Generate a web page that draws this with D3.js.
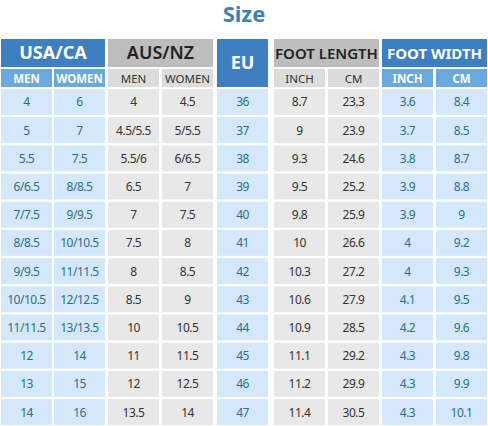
<!DOCTYPE html>
<html><head><meta charset="utf-8">
<script src="https://cdn.jsdelivr.net/npm/d3@7"></script>
<style>body{margin:0;background:#fff;font-family:"Noto Sans","Open Sans",sans-serif;}</style>
</head><body><div id="chart"></div>
<script>
var usMen = ["4","5","5.5","6/6.5","7/7.5","8/8.5","9/9.5","10/10.5","11/11.5","12","13","14"];
var usWomen = ["6","7","7.5","8/8.5","9/9.5","10/10.5","11/11.5","12/12.5","13/13.5","14","15","16"];
var auMen = ["4","4.5/5.5","5.5/6","6.5","7","7.5","8","8.5","10","11","12","13.5"];
var auWomen = ["4.5","5/5.5","6/6.5","7","7.5","8","8.5","9","10.5","11.5","12.5","14"];
var eu = ["36","37","38","39","40","41","42","43","44","45","46","47"];
var lenInch = ["8.7","9","9.3","9.5","9.8","10","10.3","10.6","10.9","11.1","11.2","11.4"];
var lenCm = ["23.3","23.9","24.6","25.2","25.9","26.6","27.2","27.9","28.5","29.2","29.9","30.5"];
var widInch = ["3.6","3.7","3.8","3.9","3.9","4","4","4.1","4.2","4.3","4.3","4.3"];
var widCm = ["8.4","8.5","8.7","8.8","9","9.2","9.3","9.5","9.6","9.8","9.9","10.1"];
var columns = [usMen, usWomen, auMen, auWomen, eu, lenInch, lenCm, widInch, widCm];
var groups = [
  {name: "USA/CA", cols: [0, 1], subs: ["MEN", "WOMEN"], blue: true},
  {name: "AUS/NZ", cols: [2, 3], subs: ["MEN", "WOMEN"], blue: false},
  {name: "EU", cols: [4], subs: null, blue: true},
  {name: "FOOT LENGTH", cols: [5, 6], subs: ["INCH", "CM"], blue: false},
  {name: "FOOT WIDTH", cols: [7, 8], subs: ["INCH", "CM"], blue: true}
];

var width = 488, height = 426;
var colX = [1, 54, 108, 162, 217, 274, 328, 382, 436], colW = 51;
var svg = d3.select("#chart").append("svg").attr("width", width).attr("height", height);

svg.append("text").attr("x", width / 2).attr("y", 22).attr("text-anchor", "middle")
  .attr("font-size", 22).attr("font-weight", 700).attr("fill", "#3f80bb").text("Size");

var y = d3.scaleBand().domain(d3.range(eu.length)).range([89, 425]).paddingInner(0.08);

groups.forEach(function(g) {
  var x0 = colX[g.cols[0]], x1 = colX[g.cols[g.cols.length - 1]] + colW;
  var h1 = g.subs ? 28 : 48;
  svg.append("rect").attr("x", x0).attr("y", 39).attr("width", x1 - x0).attr("height", h1)
    .attr("fill", g.blue ? "#3d7fc0" : "#bdbdbd");
  svg.append("text").attr("x", (x0 + x1) / 2).attr("y", 39 + h1 / 2 + 6).attr("text-anchor", "middle")
    .attr("font-size", g.name.length > 6 ? 15 : 18).attr("font-weight", g.blue ? 700 : 600)
    .attr("fill", g.blue ? "#fff" : "#222").text(g.name);
  if (g.subs) g.subs.forEach(function(s, i) {
    var cx = colX[g.cols[i]];
    svg.append("rect").attr("x", cx).attr("y", 69).attr("width", colW).attr("height", 18)
      .attr("fill", g.blue ? "#6aa8e0" : "#dcdcdc");
    svg.append("text").attr("x", cx + colW / 2).attr("y", 82.5).attr("text-anchor", "middle")
      .attr("font-size", 11.5).attr("font-weight", g.blue ? 700 : 400)
      .attr("fill", g.blue ? "#fff" : "#333").text(s);
  });
  g.cols.forEach(function(c) {
    var cells = svg.append("g").selectAll("g").data(columns[c]).enter().append("g");
    cells.append("rect").attr("x", colX[c]).attr("y", function(d, i) { return y(i); })
      .attr("width", colW).attr("height", y.bandwidth())
      .attr("fill", g.blue ? "#d5e8fb" : "#e8e8e8");
    cells.append("text").attr("x", colX[c] + colW / 2)
      .attr("y", function(d, i) { return y(i) + y.bandwidth() / 2 + 4.5; })
      .attr("text-anchor", "middle").attr("font-size", 12)
      .attr("letter-spacing", -0.5)
      .attr("fill", g.blue ? "#2b6f85" : "#333").text(function(d) { return d; });
  });
});
</script></body></html>
